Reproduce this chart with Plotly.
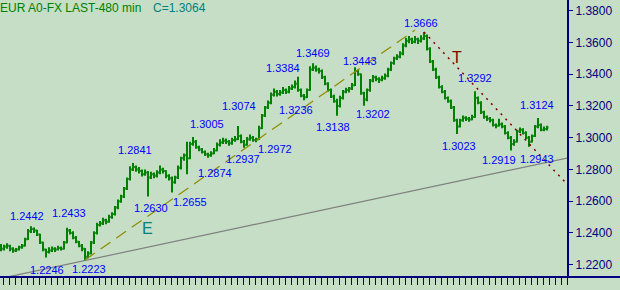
import plotly.graph_objects as go

# ---------------- DATA (prices as offsets in 1/10000 above 1.0000, e.g. 2305 -> 1.2305) -------------
opens = [
    2310, 2300, 2315, 2320, 2300, 2290, 2295, 2310, 2320, 2360,
    2410, 2425, 2415, 2390, 2340, 2295, 2280, 2290, 2300, 2295,
    2305, 2300, 2340, 2415, 2400, 2370, 2345, 2320, 2300, 2250,
    2270, 2340, 2400, 2450, 2460, 2480, 2470, 2500, 2520, 2560,
    2600, 2630, 2680, 2740, 2800, 2815, 2800, 2790, 2770, 2780,
    2750, 2770, 2760, 2780, 2800, 2790, 2760, 2745, 2720, 2750,
    2810, 2870, 2890, 2870, 2960, 2975, 2940, 2925, 2910, 2895,
    2890, 2900, 2920, 2955, 2970, 2980, 2975, 2965, 2985, 2990,
    3010, 2975, 2955, 2990, 3000, 2985, 2990, 3060, 3140, 3190,
    3220, 3270, 3290, 3275, 3285, 3300, 3290, 3310, 3320, 3340,
    3300, 3265, 3255, 3300, 3430, 3440, 3430, 3420, 3380, 3340,
    3300, 3260, 3230, 3200, 3250, 3290, 3300, 3310, 3330, 3420,
    3400, 3280, 3240, 3300, 3360, 3380, 3370, 3365, 3375, 3390,
    3430, 3470, 3500, 3510, 3530, 3580, 3610, 3620, 3605, 3620,
    3610, 3625, 3640, 3560, 3480, 3430, 3380, 3320, 3290, 3250,
    3230, 3190, 3110, 3070, 3110, 3125, 3120, 3115, 3130, 3250,
    3220, 3160, 3130, 3120, 3110, 3080, 3075, 3085, 3070, 3030,
    3000, 2960, 2975, 3040, 3050, 3030, 3000, 2975, 3010, 3070,
    3080, 3050, 3055,
]
highs = [
    2330, 2325, 2335, 2325, 2310, 2305, 2320, 2330, 2370, 2425,
    2442, 2435, 2420, 2395, 2345, 2300, 2310, 2315, 2310, 2320,
    2315, 2350, 2433, 2425, 2410, 2380, 2350, 2330, 2305, 2285,
    2350, 2410, 2465, 2475, 2495, 2490, 2515, 2530, 2570, 2610,
    2640, 2690, 2750, 2820, 2841, 2825, 2815, 2800, 2800, 2790,
    2785, 2780, 2795, 2825, 2810, 2795, 2770, 2755, 2760, 2825,
    2880, 2900, 2975, 2975, 3005, 2985, 2950, 2935, 2920, 2905,
    2915, 2935, 2970, 2990, 3000, 2995, 2985, 3000, 3010, 3074,
    3020, 2985, 3005, 3020, 3010, 3000, 3075, 3150, 3200, 3235,
    3285, 3310, 3300, 3300, 3320, 3310, 3325, 3335, 3360, 3384,
    3310, 3275, 3310, 3450, 3469, 3455, 3440, 3430, 3390, 3350,
    3310, 3270, 3245, 3265, 3300, 3315, 3320, 3345, 3443, 3430,
    3405, 3290, 3310, 3370, 3395, 3390, 3380, 3390, 3405, 3440,
    3480, 3510, 3525, 3545, 3595, 3630, 3640, 3630, 3640, 3630,
    3645, 3666, 3650, 3570, 3490, 3440, 3390, 3330, 3300, 3260,
    3240, 3200, 3120, 3120, 3140, 3135, 3130, 3145, 3292, 3260,
    3230, 3170, 3140, 3130, 3120, 3090, 3120, 3095, 3080, 3040,
    3010, 2990, 3050, 3065, 3060, 3040, 3010, 3020, 3080, 3124,
    3090, 3070, 3075,
]
lows = [
    2285, 2290, 2300, 2285, 2275, 2280, 2290, 2300, 2315, 2355,
    2400, 2400, 2380, 2330, 2285, 2246, 2270, 2280, 2280, 2290,
    2290, 2295, 2335, 2390, 2360, 2335, 2310, 2285, 2223, 2240,
    2265, 2330, 2390, 2440, 2450, 2455, 2465, 2490, 2510, 2550,
    2590, 2620, 2670, 2730, 2790, 2785, 2775, 2755, 2760, 2630,
    2740, 2745, 2750, 2770, 2775, 2745, 2730, 2655, 2710, 2740,
    2800, 2855, 2770, 2865, 2950, 2930, 2915, 2900, 2885, 2874,
    2880, 2895, 2915, 2945, 2960, 2960, 2950, 2955, 2975, 2985,
    2965, 2937, 2950, 2980, 2975, 2972, 2985, 3055, 3130, 3180,
    3210, 3260, 3260, 3265, 3275, 3275, 3280, 3300, 3310, 3290,
    3255, 3236, 3250, 3295, 3420, 3415, 3405, 3370, 3330, 3290,
    3250, 3220, 3138, 3190, 3240, 3280, 3285, 3300, 3325, 3390,
    3270, 3202, 3230, 3290, 3350, 3355, 3345, 3355, 3365, 3380,
    3420, 3460, 3490, 3500, 3520, 3570, 3595, 3590, 3595, 3590,
    3600, 3615, 3550, 3470, 3420, 3370, 3310, 3280, 3240, 3220,
    3180, 3100, 3023, 3065, 3100, 3105, 3100, 3110, 3125, 3210,
    3150, 3120, 3105, 3095, 3070, 3060, 3070, 3060, 3020, 2990,
    2919, 2950, 2970, 3030, 3020, 2990, 2943, 2970, 3005, 3060,
    3040, 3040, 3045,
]
closes = [
    2300, 2315, 2320, 2300, 2290, 2295, 2310, 2320, 2360, 2410,
    2425, 2415, 2390, 2340, 2295, 2280, 2290, 2300, 2295, 2305,
    2300, 2340, 2415, 2400, 2370, 2345, 2320, 2300, 2250, 2270,
    2340, 2400, 2450, 2460, 2480, 2470, 2500, 2520, 2560, 2600,
    2630, 2680, 2740, 2800, 2815, 2800, 2790, 2770, 2780, 2750,
    2770, 2760, 2780, 2800, 2790, 2760, 2745, 2720, 2750, 2810,
    2870, 2890, 2870, 2960, 2975, 2940, 2925, 2910, 2895, 2890,
    2900, 2920, 2955, 2970, 2980, 2975, 2965, 2985, 2990, 3010,
    2975, 2955, 2990, 3000, 2985, 2990, 3060, 3140, 3190, 3220,
    3270, 3290, 3275, 3285, 3300, 3290, 3310, 3320, 3340, 3300,
    3265, 3255, 3300, 3430, 3440, 3430, 3420, 3380, 3340, 3300,
    3260, 3230, 3200, 3250, 3290, 3300, 3310, 3330, 3420, 3400,
    3280, 3240, 3300, 3360, 3380, 3370, 3365, 3375, 3390, 3430,
    3470, 3500, 3510, 3530, 3580, 3610, 3620, 3605, 3620, 3610,
    3625, 3640, 3560, 3480, 3430, 3380, 3320, 3290, 3250, 3230,
    3190, 3110, 3070, 3110, 3125, 3120, 3115, 3130, 3250, 3220,
    3160, 3130, 3120, 3110, 3080, 3075, 3085, 3070, 3030, 3000,
    2960, 2975, 3040, 3050, 3030, 3000, 2975, 3010, 3070, 3080,
    3050, 3055, 3064,
]

# labelled swing highs / lows (bar index)
pivot_high_bars = [10, 22, 44, 64, 79, 99, 104, 118, 141, 158, 179]
pivot_low_bars = [15, 28, 49, 57, 69, 81, 85, 101, 112, 121, 152, 170, 176]

# drawn trend lines: anchors as (bar index, price)
line_e_bars = [28, 138]
line_e_prices = [1.2230, 1.3678]
line_t_bars = [141, 188.7]
line_t_prices = [1.3666, 1.2707]
line_g_bars = [2.3, 188.7]
line_g_prices = [1.2123, 1.2872]

y_ticks = [1.22, 1.24, 1.26, 1.28, 1.30, 1.32, 1.34, 1.36, 1.38]
title_text = "EUR A0-FX LAST-480 min"
line_letters = ["E", "T"]

# ---------------- STYLE / PLACEMENT ----------------
BG = "#c5dec5"
NAVY = "#000080"
BAR_GREEN = "#008000"
LABEL_BLUE = "#0000ff"
FONT = "Arial, Liberation Sans, sans-serif"
W, H = 620, 290
ML, MR, MT, MB = 0, 53, 0, 13
high_label_shift = [(-4, 10), (2, 15), (2, 13), (14, 13), (1, 20), (-15, 9), (0, 10),
                    (5, 6), (-3, 9), (0, 13), (-1, 13)]
low_label_shift = [(1, -13), (4, -8), (3, -12), (18, -10), (7, -15), (-1, -11), (19, -7),
                   (-8, -10), (-4, -11), (9, -8), (2, -12), (-12, -9), (8, -12)]
letter_pos = [(48.7, 1.2426, "#008080"), (152.0, 1.3508, "#800000")]


def px(v):
    return 1 + v / 10000.0


o = [px(v) for v in opens]
h = [px(v) for v in highs]
l = [px(v) for v in lows]
c = [px(v) for v in closes]
bars = list(range(len(c)))

fig = go.Figure()
fig.add_trace(go.Ohlc(
    x=bars, open=o, high=h, low=l, close=c,
    increasing=dict(line=dict(color=BAR_GREEN, width=2)),
    decreasing=dict(line=dict(color=BAR_GREEN, width=2)),
    tickwidth=0.5, hoverinfo="skip", showlegend=False,
))
fig.add_trace(go.Scatter(x=line_g_bars, y=line_g_prices, mode="lines",
                         line=dict(color="#808080", width=1.2), hoverinfo="skip", showlegend=False))
fig.add_trace(go.Scatter(x=line_e_bars, y=line_e_prices, mode="lines",
                         line=dict(color="#8c8c00", width=1.2, dash="12px,7px"),
                         hoverinfo="skip", showlegend=False))
fig.add_trace(go.Scatter(x=line_t_bars, y=line_t_prices, mode="lines",
                         line=dict(color="#800000", width=1.5, dash="2px,5px"),
                         hoverinfo="skip", showlegend=False))

ann = []
for i, (dx, dy) in zip(pivot_high_bars, high_label_shift):
    ann.append(dict(x=i, y=h[i], xref="x", yref="y", text=f"{h[i]:.4f}", showarrow=False,
                    xanchor="center", yanchor="middle", xshift=dx, yshift=dy,
                    font=dict(family=FONT, size=11, color=LABEL_BLUE)))
for i, (dx, dy) in zip(pivot_low_bars, low_label_shift):
    ann.append(dict(x=i, y=l[i], xref="x", yref="y", text=f"{l[i]:.4f}", showarrow=False,
                    xanchor="center", yanchor="middle", xshift=dx, yshift=dy,
                    font=dict(family=FONT, size=11, color=LABEL_BLUE)))
for txt, (lx, ly, col) in zip(line_letters, letter_pos):
    ann.append(dict(x=lx, y=ly, xref="x", yref="y", text=txt, showarrow=False,
                    xanchor="center", yanchor="middle",
                    font=dict(family=FONT, size=16, color=col)))

plot_h = H - MT - MB
plot_w = W - ML - MR
ann.append(dict(x=0, y=1 - 8 / plot_h, xref="paper", yref="paper", text=title_text,
                showarrow=False, xanchor="left", yanchor="middle", xshift=-2,
                font=dict(family=FONT, size=12, color="#008000")))
ann.append(dict(x=153 / plot_w, y=1 - 8 / plot_h, xref="paper", yref="paper",
                text=f"C={c[-1]:.4f}", showarrow=False, xanchor="left", yanchor="middle", xshift=-2,
                font=dict(family=FONT, size=12, color="#008080")))

fig.update_layout(
    width=W, height=H, margin=dict(l=ML, r=MR, t=MT, b=MB, pad=0),
    paper_bgcolor=BG, plot_bgcolor=BG, showlegend=False, hovermode=False,
    annotations=ann,
    shapes=[dict(type="line", xref="paper", yref="paper", x0=0, x1=W / plot_w, y0=0, y1=0,
                 line=dict(color=NAVY, width=2))],
    xaxis=dict(range=[-1 / 3, 188 + 2 / 3], rangeslider=dict(visible=False),
               showgrid=False, zeroline=False, showticklabels=False, showline=False,
               ticks="outside", ticklen=7, tickwidth=1, tickcolor=NAVY,
               tick0=2 / 3, dtick=2, fixedrange=True),
    yaxis=dict(range=[1.21225, 1.38674], side="right", showgrid=False, zeroline=False,
               showline=True, linewidth=2, linecolor=NAVY,
               ticks="outside", ticklen=4, tickwidth=1, tickcolor=NAVY,
               tickvals=y_ticks, ticktext=[f"{v:.4f}" for v in y_ticks],
               tickfont=dict(family=FONT, size=12, color=NAVY), fixedrange=True),
)

fig.write_html("out.html", config={"displayModeBar": False, "staticPlot": True})
